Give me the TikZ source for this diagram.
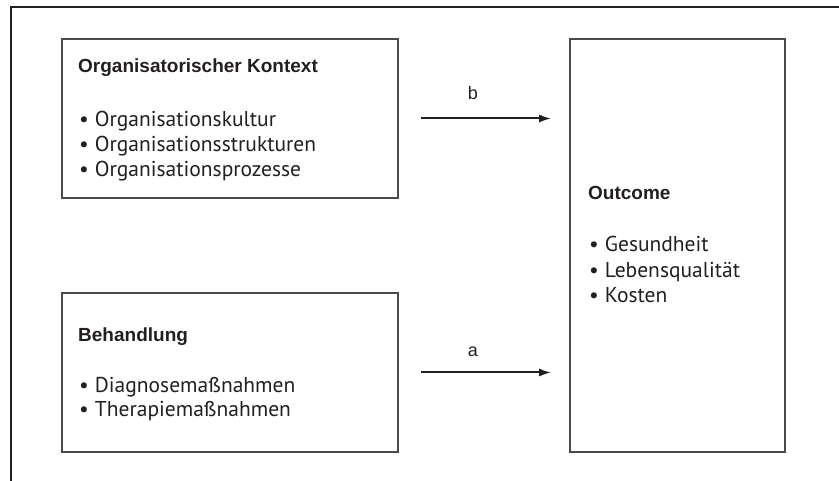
\documentclass[tikz,border=0pt]{standalone}
\usepackage{fontspec}
\setmainfont{PT Sans}
\newfontfamily\headfont{Liberation Sans}
\usetikzlibrary{arrows.meta}
\definecolor{ink}{HTML}{231F20}
\definecolor{boxline}{HTML}{4A4A4A}
\tikzset{
  box/.style={draw=boxline, line width=1.6pt, inner sep=0pt, fill=none},
  head/.style={anchor=base west, inner sep=0pt, text=ink, font=\headfont\bfseries\fontsize{19}{24}\selectfont},
  item/.style={anchor=base west, inner sep=0pt, text=ink, font=\fontsize{21.5}{25}\selectfont},
  lbl/.style={anchor=base, inner sep=0pt, text=ink, font=\headfont\fontsize{18}{22}\selectfont},
  conn/.style={line width=2pt, draw=ink, -{Latex[length=12pt,width=8pt]}},
  frame/.style={draw=ink, line width=1.2pt}
}
\newcommand{\bul}{•\hspace{6pt}}
\begin{document}
\begin{tikzpicture}[x=1pt,y=-1pt]
\useasboundingbox (0,0) rectangle (839,481);
% open frame
\coordinate (ftl) at (11,7);
\coordinate (ftr) at (839,7);
\coordinate (fbl) at (11,481);
\draw[frame] (ftr) -- (ftl) -- (fbl);
% boxes
\node[box, minimum width=336pt, minimum height=159pt] (ctx) at (230,118.5) {};
\node[box, minimum width=336pt, minimum height=159pt] (beh) at (230,372.5) {};
\node[box, minimum width=215pt, minimum height=413pt] (out) at (677.5,245.5) {};
% context text
\node[head] (ctxh) at (78,73) {Organisatorischer Kontext};
\node[item] (c1) at (79,127) {\bul Organisationskultur};
\node[item] (c2) at (79,152) {\bul Organisationsstrukturen};
\node[item] (c3) at (79,177) {\bul Organisationsprozesse};
% Behandlung text
\node[head] (behh) at (78,342) {Behandlung};
\node[item] (b1) at (79,392) {\bul Diagnosemaßnahmen};
\node[item] (b2) at (79,417) {\bul Therapiemaßnahmen};
% Outcome text
\node[head] (outh) at (588,200) {Outcome};
\node[item] (o1) at (589,252) {\bul Gesundheit};
\node[item] (o2) at (589,278) {\bul Lebensqualität};
\node[item] (o3) at (589,303) {\bul Kosten};
% connectors
\coordinate (ob) at (out.west |- ctx.east);
\coordinate (oa) at (out.west |- beh.east);
\draw[conn, shorten <=22pt, shorten >=18pt] (ctx.east) -- (ob);
\draw[conn, shorten <=22pt, shorten >=18pt] (beh.east) -- (oa);
\node[lbl] (lb) at (473,100) {b};
\node[lbl] (la) at (473,356) {a};
\end{tikzpicture}
\end{document}
